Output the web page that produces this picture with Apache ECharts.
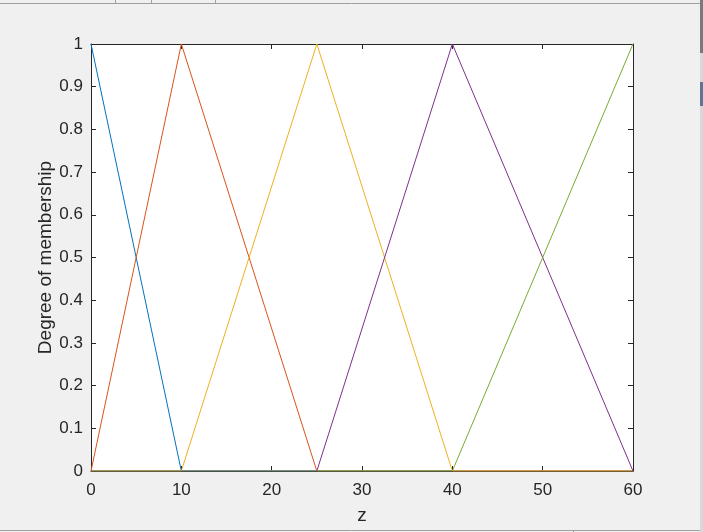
<!DOCTYPE html>
<html><head><meta charset="utf-8">
<script src="https://cdn.jsdelivr.net/npm/echarts@6/dist/echarts.min.js"></script>
<style>html,body{margin:0;padding:0;background:#f0f0f0;}#c{width:703px;height:532px;}</style>
</head><body><div id="c"></div>
<script>
// Membership functions: breakpoints (z) and degrees
const mf1Z = [0, 10, 60];      const mf1Y = [1, 0, 0];
const mf2Z = [0, 10, 25, 60];  const mf2Y = [0, 1, 0, 0];
const mf3Z = [0, 10, 25, 40, 60]; const mf3Y = [0, 0, 1, 0, 0];
const mf4Z = [0, 25, 40, 60];  const mf4Y = [0, 0, 1, 0];
const mf5Z = [0, 40, 60];      const mf5Y = [0, 0, 1];
const seriesColors = ['#0072BD', '#D95319', '#EDB120', '#7E2F8E', '#77AC30'];
const xAxisName = 'z';
const yAxisName = 'Degree of membership';

const mfs = [[mf1Z, mf1Y], [mf2Z, mf2Y], [mf3Z, mf3Y], [mf4Z, mf4Y], [mf5Z, mf5Y]];
const font = 'Liberation Sans, Arial, sans-serif';
const axisCol = '#262626';

const chart = echarts.init(document.getElementById('c'), null, {renderer: 'canvas'});
const baseAxis = () => ({
  axisLine: {show: true, onZero: false, lineStyle: {color: axisCol, width: 1}},
  axisTick: {show: true, inside: true, length: 5, lineStyle: {color: axisCol}},
  splitLine: {show: false},
});
chart.setOption({
  backgroundColor: '#f0f0f0',
  animation: false,
  grid: {left: 91, right: 70, top: 44, bottom: 61, show: true, backgroundColor: '#ffffff', borderWidth: 0},
  xAxis: [
    Object.assign(baseAxis(), {
      type: 'value', min: 0, max: 60, interval: 10, position: 'bottom',
      name: xAxisName, nameLocation: 'middle', nameGap: 35,
      nameTextStyle: {fontFamily: font, fontSize: 19, color: axisCol},
      axisLabel: {fontFamily: font, fontSize: 17, color: axisCol, margin: 11}
    }),
    Object.assign(baseAxis(), {
      type: 'value', min: 0, max: 60, interval: 10, position: 'top',
      axisLabel: {show: false}
    })
  ],
  yAxis: [
    Object.assign(baseAxis(), {
      type: 'value', min: 0, max: 1, interval: 0.1, position: 'left',
      name: yAxisName, nameLocation: 'middle', nameGap: 36, nameMoveOverlap: false,
      nameTextStyle: {fontFamily: font, fontSize: 19, color: axisCol},
      axisLabel: {fontFamily: font, fontSize: 17, color: axisCol, margin: 8,
        formatter: v => String(Math.round(v * 10) / 10)}
    }),
    Object.assign(baseAxis(), {
      type: 'value', min: 0, max: 1, interval: 0.1, position: 'right',
      axisLabel: {show: false}
    })
  ],
  series: mfs.map((m, i) => ({
    type: 'line', xAxisIndex: 0, yAxisIndex: 0,
    data: m[0].map((z, j) => [z, m[1][j]]),
    showSymbol: false, symbol: 'none',
    lineStyle: {color: seriesColors[i], width: 1},
    z: 2 + i
  })),
  graphic: [
    {type: 'line', shape: {x1: 0, y1: 3.5, x2: 703, y2: 3.5}, style: {stroke: '#a0a0a0', lineWidth: 1}},
    {type: 'line', shape: {x1: 115.5, y1: 0, x2: 115.5, y2: 3}, style: {stroke: '#a0a0a0', lineWidth: 1}},
    {type: 'line', shape: {x1: 151.5, y1: 0, x2: 151.5, y2: 3}, style: {stroke: '#a0a0a0', lineWidth: 1}},
    {type: 'line', shape: {x1: 215.5, y1: 0, x2: 215.5, y2: 3}, style: {stroke: '#a0a0a0', lineWidth: 1}},
    {type: 'line', shape: {x1: 0, y1: 530.5, x2: 703, y2: 530.5}, style: {stroke: '#a0a0a0', lineWidth: 1}},
    {type: 'line', shape: {x1: 573.5, y1: 531, x2: 573.5, y2: 532}, style: {stroke: '#a0a0a0', lineWidth: 1}},
    {type: 'rect', shape: {x: 700, y: 0, width: 3, height: 53}, style: {fill: '#7a7a7a'}},
    {type: 'rect', shape: {x: 700, y: 53, width: 3, height: 479}, style: {fill: '#d8d8d8'}},
    {type: 'rect', shape: {x: 700, y: 82, width: 3, height: 24}, style: {fill: '#5f7594'}}
  ]
});
</script></body></html>
